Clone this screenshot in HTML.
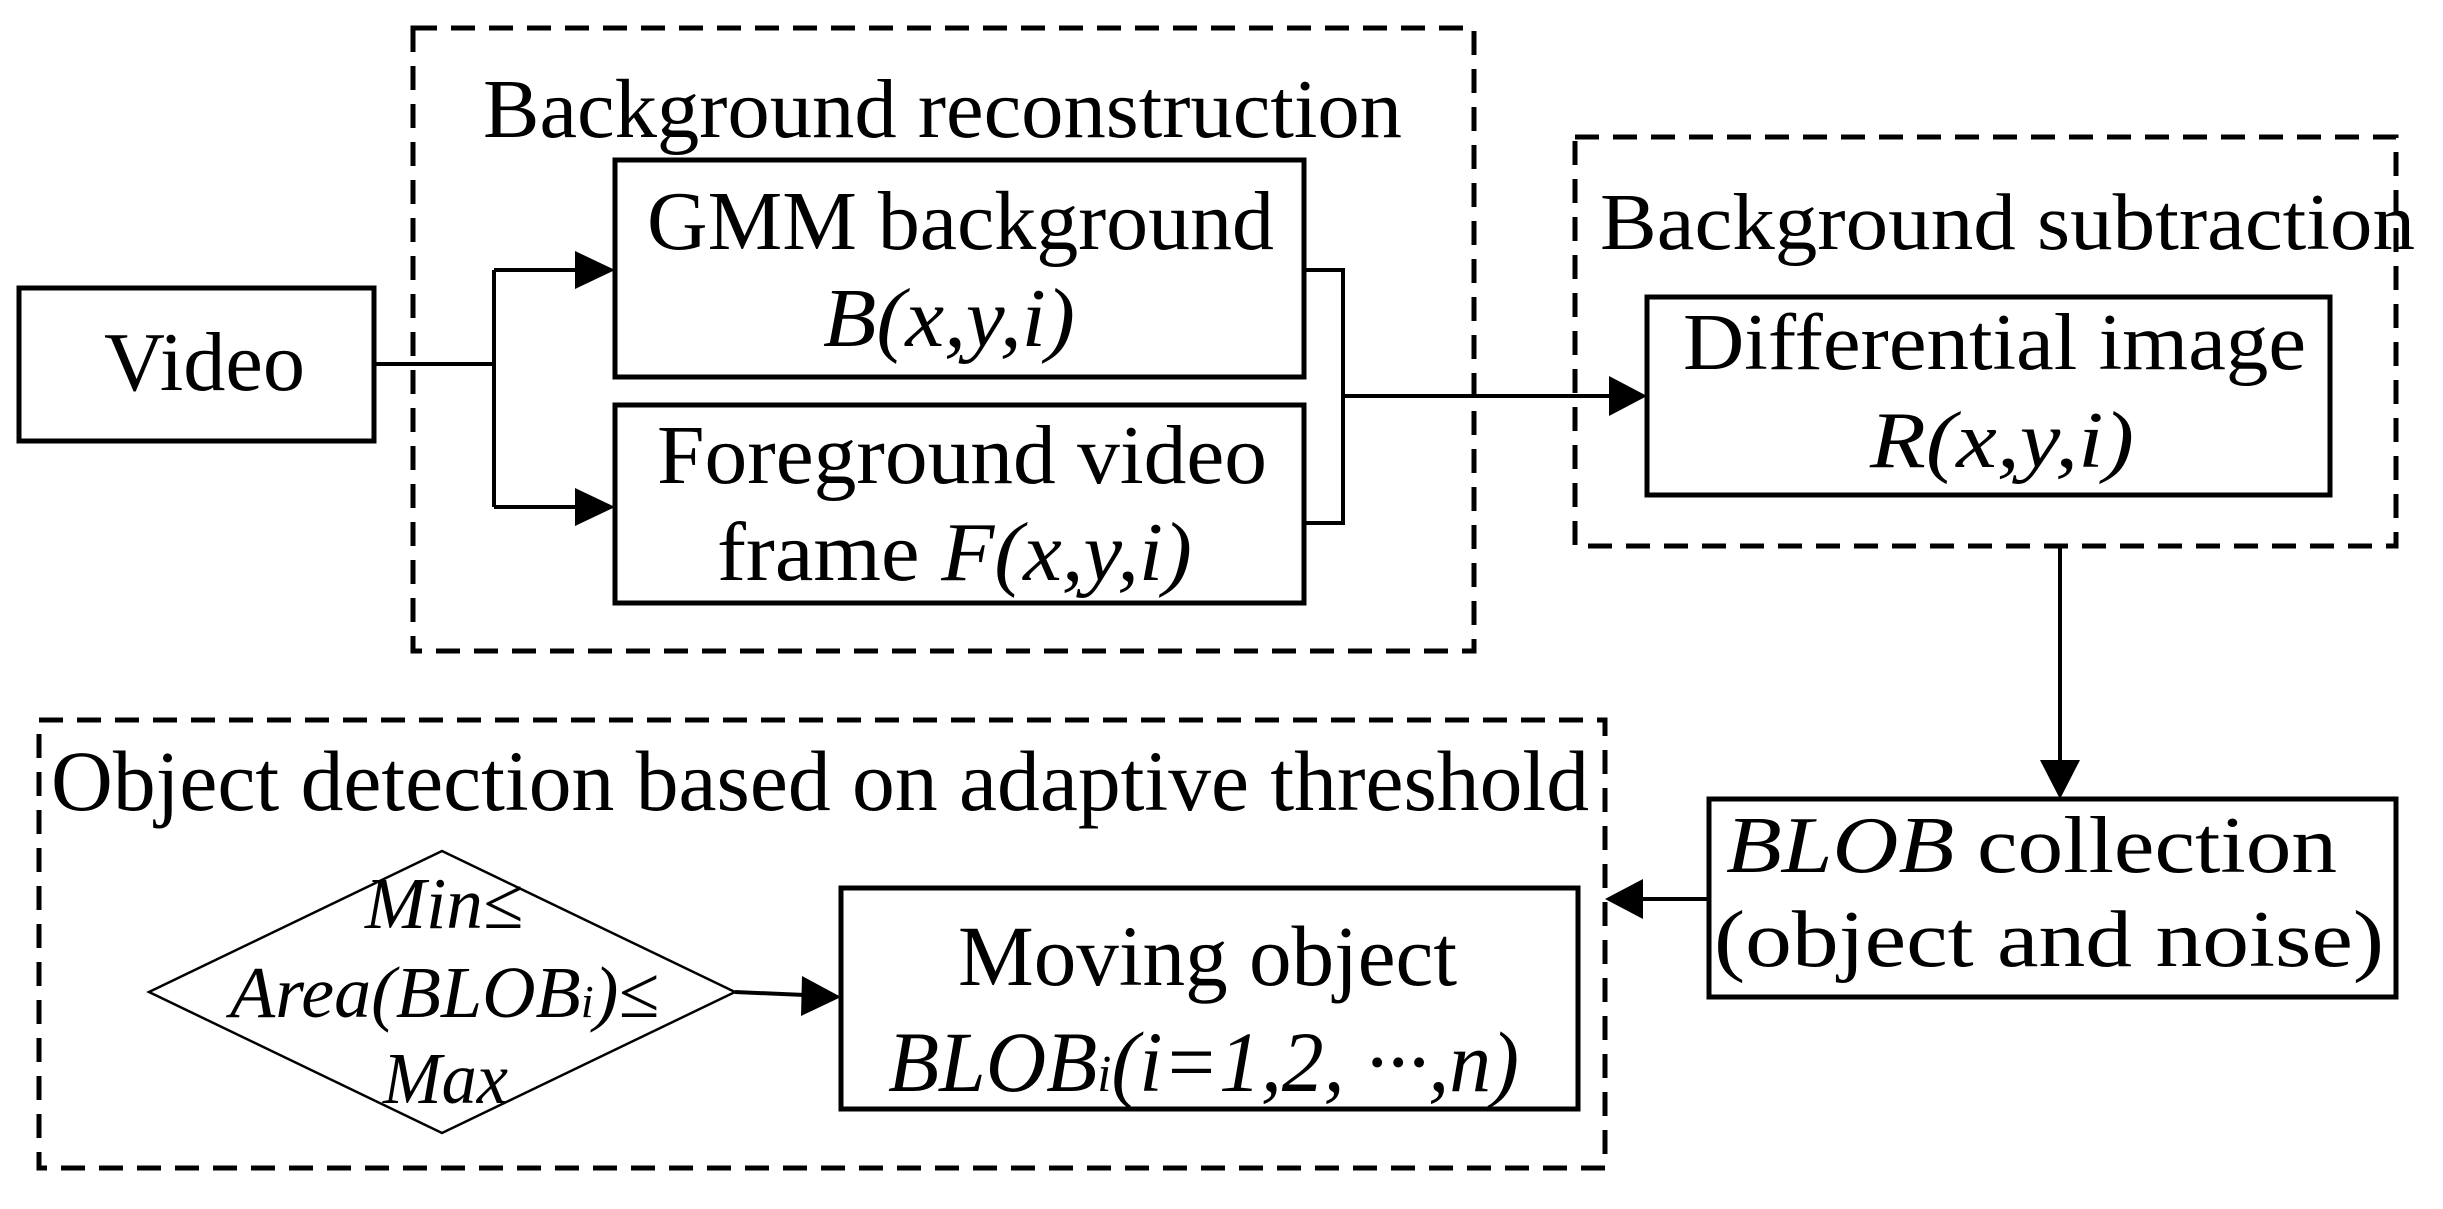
<!DOCTYPE html>
<html><head><meta charset="utf-8"><style>
html,body{margin:0;padding:0;background:#fff;}
svg{display:block;}
text{font-family:"Liberation Serif",serif;fill:#000;}
</style></head><body>
<svg width="2443" height="1209" viewBox="0 0 2443 1209" xmlns="http://www.w3.org/2000/svg">
<g fill="none" stroke="#000">
<rect x="413" y="28" width="1061" height="623" stroke-width="5" stroke-dasharray="24,14"/>
<rect x="1575" y="137" width="821" height="409" stroke-width="5" stroke-dasharray="24,14"/>
<rect x="39" y="720" width="1566" height="448" stroke-width="5" stroke-dasharray="24,14"/>
<rect x="19" y="288" width="355" height="153" stroke-width="5"/>
<rect x="615" y="160" width="689" height="217" stroke-width="5"/>
<rect x="615" y="405" width="689" height="198" stroke-width="5"/>
<rect x="1647" y="297" width="683" height="198" stroke-width="5"/>
<rect x="1709" y="799" width="687" height="198" stroke-width="5"/>
<rect x="841" y="888" width="737" height="221" stroke-width="5"/>
<polygon points="442,851 735,992 442,1133 149,992" stroke-width="2.5"/>
<polyline points="374,364 494,364" stroke-width="4"/>
<polyline points="494,270 494,507" stroke-width="4"/>
<line x1="494" y1="270" x2="580" y2="270" stroke-width="4"/>
<line x1="494" y1="507" x2="580" y2="507" stroke-width="4"/>
<polyline points="1304,270 1343,270 1343,523 1304,523" stroke-width="4"/>
<line x1="1343" y1="396" x2="1610" y2="396" stroke-width="4"/>
<line x1="2060" y1="546" x2="2060" y2="762" stroke-width="4"/>
<line x1="1709" y1="899" x2="1640" y2="899" stroke-width="4"/>
<line x1="735" y1="992" x2="805" y2="995" stroke-width="4"/>
</g>
<g fill="#000">
<polygon points="615,270 575,251 575,289"/>
<polygon points="615,507 575,488 575,526"/>
<polygon points="1647,396 1609,376 1609,416"/>
<polygon points="2060,799 2040,760 2080,760"/>
<polygon points="1605,899 1643,879 1643,919"/>
<polygon points="841,997 802,976 801,1016"/>
</g>
<text x="104" y="390" font-size="84" textLength="201" lengthAdjust="spacingAndGlyphs">Video</text>
<text x="483" y="137" font-size="84" textLength="919" lengthAdjust="spacingAndGlyphs">Background reconstruction</text>
<text x="647" y="249" font-size="84" textLength="627" lengthAdjust="spacingAndGlyphs">GMM background</text>
<text x="823" y="346" font-size="84" font-style="italic" textLength="252" lengthAdjust="spacingAndGlyphs">B(x,y,i)</text>
<text x="657" y="483" font-size="84" textLength="610" lengthAdjust="spacingAndGlyphs">Foreground video</text>
<text x="717" y="580" font-size="84" textLength="475" lengthAdjust="spacingAndGlyphs">frame <tspan font-style="italic">F(x,y,i)</tspan></text>
<text x="1600" y="249" font-size="80" textLength="815" lengthAdjust="spacingAndGlyphs">Background subtraction</text>
<text x="1683" y="369" font-size="80" textLength="623" lengthAdjust="spacingAndGlyphs">Differential image</text>
<text x="1870" y="467" font-size="80" font-style="italic" textLength="264" lengthAdjust="spacingAndGlyphs">R(x,y,i)</text>
<text x="1726" y="872" font-size="80" textLength="611" lengthAdjust="spacingAndGlyphs"><tspan font-style="italic">BLOB</tspan> collection</text>
<text x="1714" y="966" font-size="80" textLength="670" lengthAdjust="spacingAndGlyphs">(object and noise)</text>
<text x="51" y="810" font-size="86" textLength="1538" lengthAdjust="spacingAndGlyphs">Object detection based on adaptive threshold</text>
<text x="958" y="985" font-size="86" textLength="499" lengthAdjust="spacingAndGlyphs">Moving object</text>
<text x="888" y="1091" font-size="86" font-style="italic" textLength="631" lengthAdjust="spacingAndGlyphs">BLOB<tspan font-size="52">i</tspan>(i=1,2, ···,n)</text>
<text x="365" y="928" font-size="73" font-style="italic" textLength="158" lengthAdjust="spacingAndGlyphs">Min≤</text>
<text x="230" y="1017" font-size="73" font-style="italic" textLength="429" lengthAdjust="spacingAndGlyphs">Area(BLOB<tspan font-size="46">i</tspan>)≤</text>
<text x="383" y="1103" font-size="73" font-style="italic" textLength="125" lengthAdjust="spacingAndGlyphs">Max</text>
</svg>
</body></html>
